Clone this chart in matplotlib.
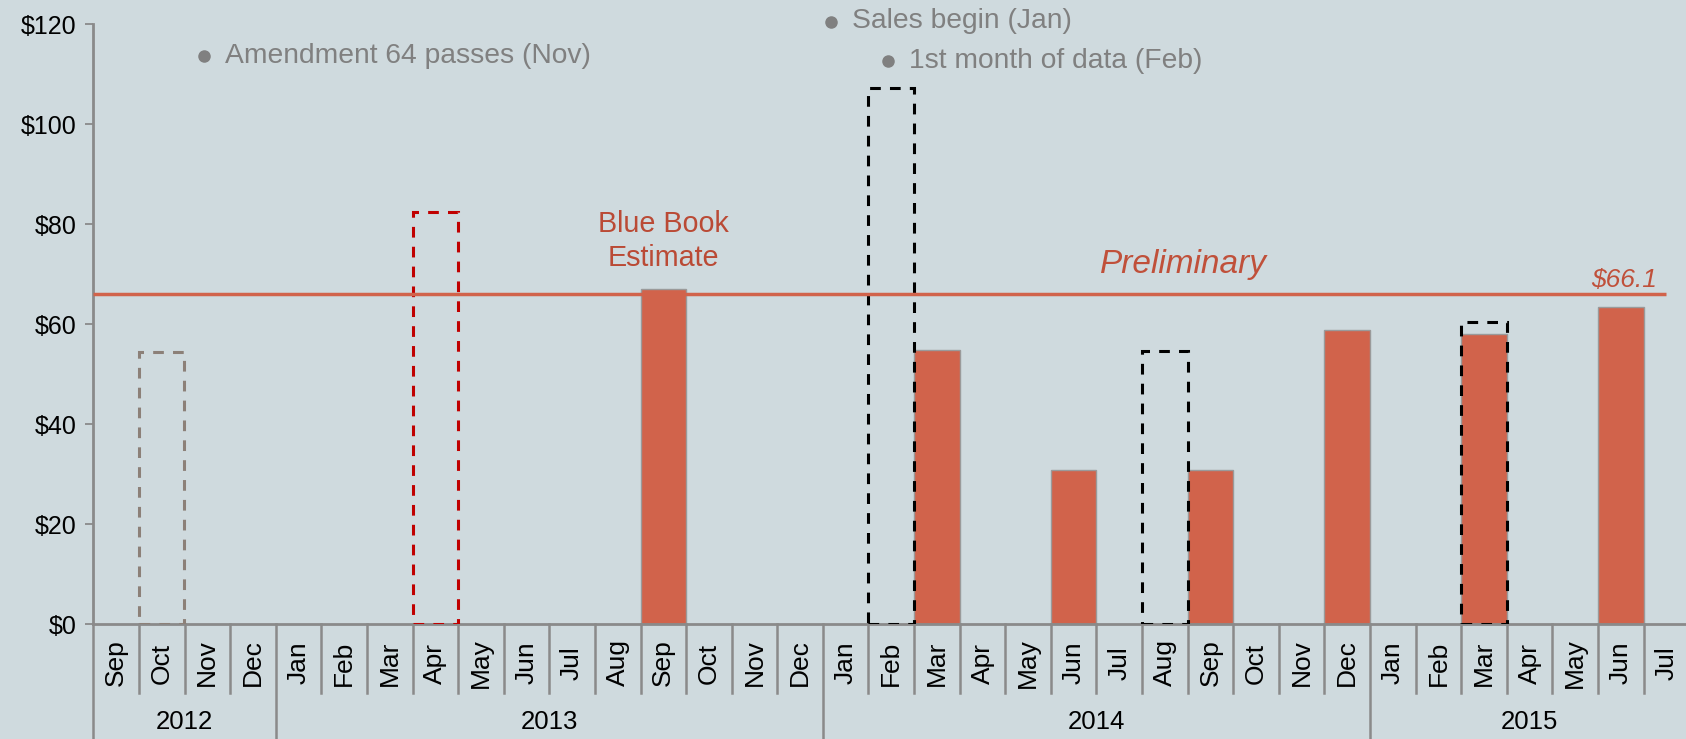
import matplotlib.pyplot as plt

plt.rcParams['font.family'] = ['Liberation Sans', 'DejaVu Sans']

months = ['Sep', 'Oct', 'Nov', 'Dec',
          'Jan', 'Feb', 'Mar', 'Apr', 'May', 'Jun', 'Jul', 'Aug', 'Sep', 'Oct', 'Nov', 'Dec',
          'Jan', 'Feb', 'Mar', 'Apr', 'May', 'Jun', 'Jul', 'Aug', 'Sep', 'Oct', 'Nov', 'Dec',
          'Jan', 'Feb', 'Mar', 'Apr', 'May', 'Jun', 'Jul']
years = [2012] * 4 + [2013] * 12 + [2014] * 12 + [2015] * 7

# monthly revenue ($M), filled bars
actual_idx = [12, 18, 21, 24, 27, 30, 33]
actual_val = [67.0, 54.8, 30.8, 30.8, 58.8, 58.0, 63.4]

# dashed outline bars
dashed_idx = [1, 7, 17, 23, 30]
dashed_val = [54.5, 82.4, 107.3, 54.7, 60.4]
dashed_col = ['#8C8078', '#C00000', '#000000', '#000000', '#000000']

blue_book = 66.1

bg = '#CFDADE'
orange = '#D1634B'
gray = '#8A8A8A'

fig = plt.figure(figsize=(16.86, 7.39), dpi=100, facecolor=bg)
ax = fig.add_axes([93.3 / 1686, 115 / 739, 1 - 93.3 / 1686, 600 / 739])
ax.set_facecolor(bg)

n = len(months)

ax.bar(actual_idx, actual_val, width=1.0, color=orange, edgecolor='#9A9A9A',
       linewidth=1, zorder=2)
for i, v, c in zip(dashed_idx, dashed_val, dashed_col):
    ax.bar(i, v, width=1.0, fill=False, edgecolor=c, linewidth=2.2,
           linestyle=(0, (3.5, 3)), zorder=3)

ax.hlines(blue_book, -0.5, n - 1, color=orange, linewidth=2.5, zorder=4)

ax.set_xlim(-0.5, -0.5 + (1686 - 93.3) / 45.6)
ax.set_ylim(0, 120)
ax.set_yticks(range(0, 121, 20))
ax.set_yticklabels(['$' + str(v) for v in range(0, 121, 20)])
ax.tick_params(axis='y', length=6, width=1.3, color=gray, labelsize=18, pad=6)
ax.set_xticks([])

for s in ['top', 'right']:
    ax.spines[s].set_visible(False)
for s in ['left', 'bottom']:
    ax.spines[s].set_color(gray)
    ax.spines[s].set_linewidth(2)

tr = ax.get_xaxis_transform()
# month labels and separators
for i, m in enumerate(months):
    ax.text(i, -0.065, m, rotation=90, ha='center', va='center',
            fontsize=19, transform=tr)
for i in range(n):
    b = i - 0.5
    if i == 0 or months[i] == 'Jan':
        ax.plot([b, b], [0, -0.2], color=gray, lw=1.8, transform=tr, clip_on=False)
    else:
        ax.plot([b, b], [0, -0.115], color=gray, lw=1.8, transform=tr, clip_on=False)

# year labels
for y in sorted(set(years)):
    idx = [i for i, yy in enumerate(years) if yy == y]
    ax.text(sum(idx) / len(idx), -0.164, str(y), ha='center', va='center',
            fontsize=18.5, transform=tr)

# annotations
notes = [('Amendment 64 passes (Nov)', 1.93, 113.6),
         ('Sales begin (Jan)', 15.68, 120.5),
         ('1st month of data (Feb)', 16.93, 112.6)]
for txt, nx, ny in notes:
    ax.plot(nx, ny, 'o', color='#808080', markersize=8, clip_on=False)
    ax.annotate(txt, (nx, ny), xytext=(15, 0), textcoords='offset points',
                ha='left', va='center', fontsize=20.3, color='#808080',
                annotation_clip=False)

ax.text(12, 76.6, 'Blue Book\nEstimate', ha='center', va='center', fontsize=20.7,
        color='#BA4A35', linespacing=1.25)
ax.text(23.4, 72.0, 'Preliminary', ha='center', va='center', fontsize=24,
        style='italic', color='#C0503A')
ax.text(33.79, 68.8, '$66.1', ha='right', va='center', fontsize=19,
        style='italic', color='#C0503A')

fig.savefig('out.png', dpi=100, facecolor=bg)
